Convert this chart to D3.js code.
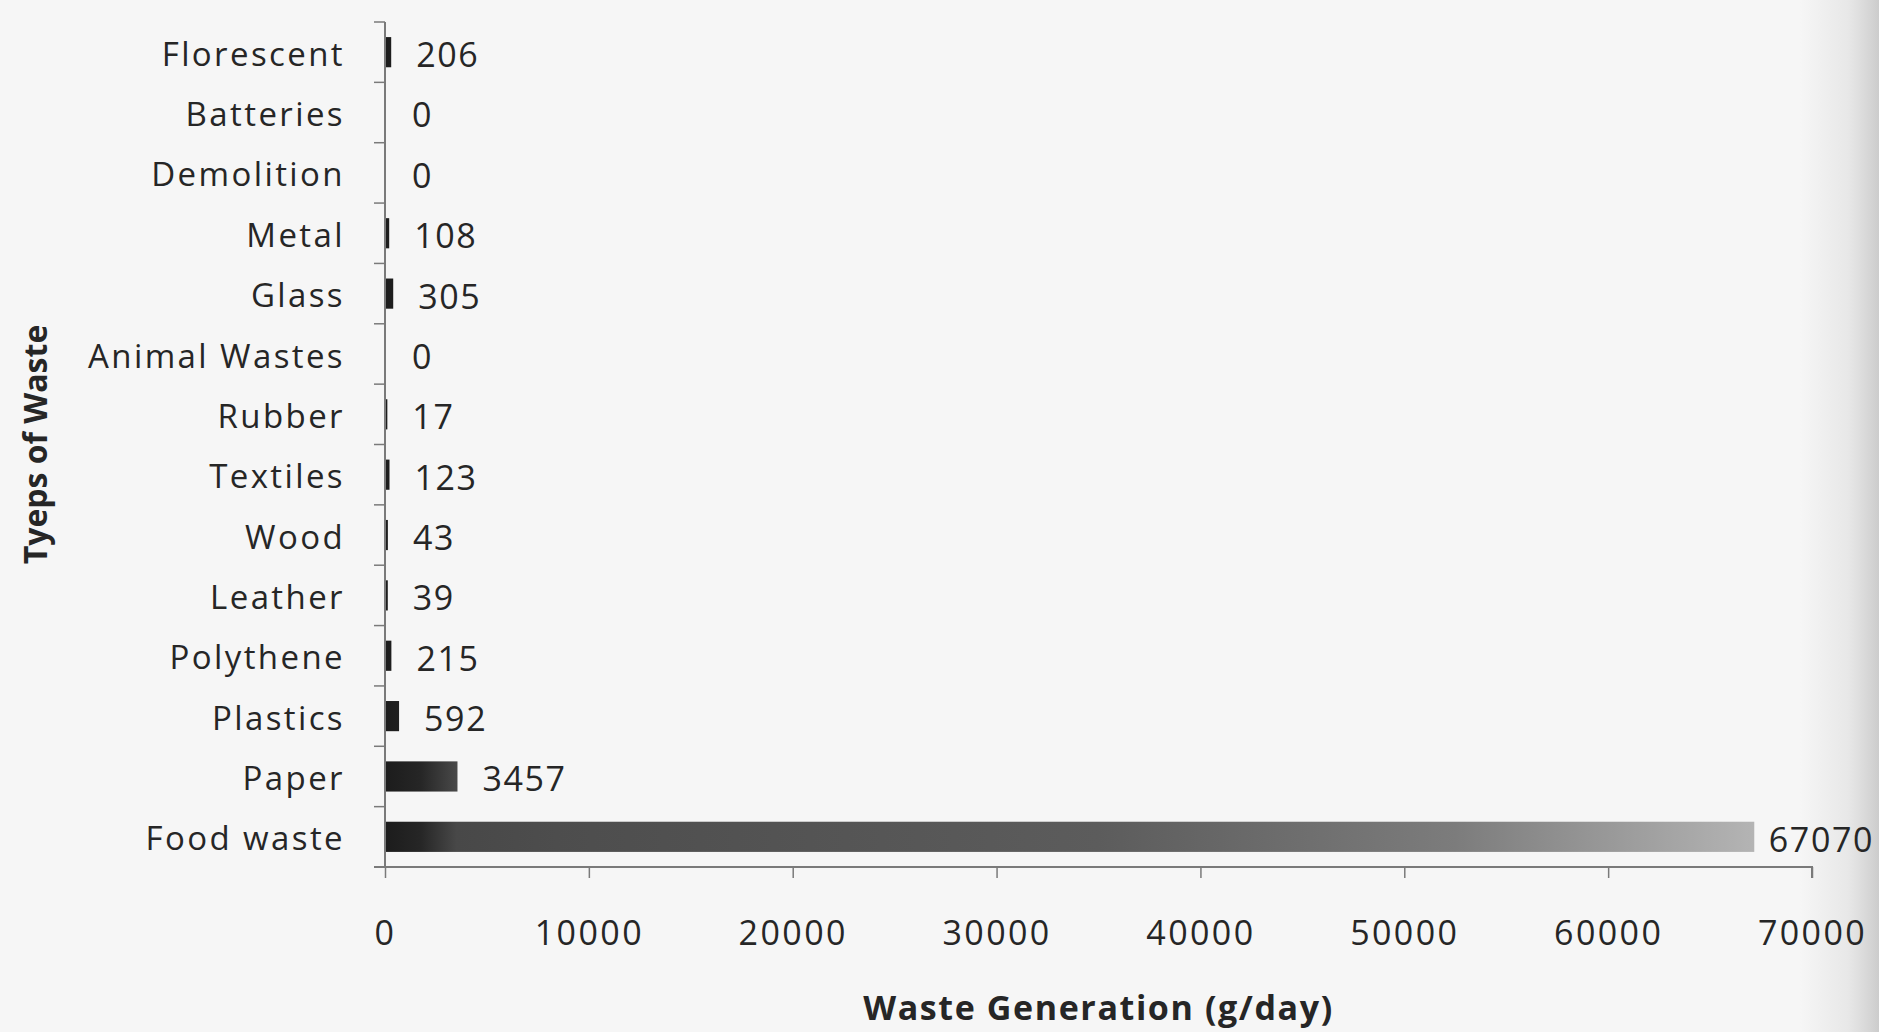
<!DOCTYPE html>
<html>
<head>
<meta charset="utf-8">
<script src="https://cdn.jsdelivr.net/npm/d3@7"></script>
<style>
  html, body { margin: 0; padding: 0; background: #f6f6f6; }
  svg { display: block; }
  text { font-family: "Open Sans", "Noto Sans", sans-serif; fill: #262626; }
</style>
</head>
<body>
<svg id="chart" width="1879" height="1032"></svg>
<script>
// ---- data ----
const categories = ["Florescent", "Batteries", "Demolition", "Metal", "Glass", "Animal Wastes",
  "Rubber", "Textiles", "Wood", "Leather", "Polythene", "Plastics", "Paper", "Food waste"];
const values = [206, 0, 0, 108, 305, 0, 17, 123, 43, 39, 215, 592, 3457, 67070];
const xTicks = [0, 10000, 20000, 30000, 40000, 50000, 60000, 70000];
const xTitle = "Waste Generation (g/day)";
const yTitle = "Tyeps of Waste";

const W = 1879, H = 1032;
const plot = { left: 385, right: 1812, top: 22, bottom: 867 };

const svg = d3.select("#chart");

// defs: bar gradient + page shading
const defs = svg.append("defs");
const x = d3.scaleLinear().domain([0, 70000]).range([plot.left, plot.right]);
const y = d3.scaleBand().domain(categories).range([plot.top, plot.bottom])
  .paddingInner(0.5).paddingOuter(0.25);

const grad = defs.append("linearGradient").attr("id", "barGrad")
  .attr("gradientUnits", "userSpaceOnUse")
  .attr("x1", x(0)).attr("x2", x(70000)).attr("y1", 0).attr("y2", 0);
[[0, "#1c1c1c"], [0.025, "#262626"], [0.05, "#484848"], [0.12, "#4d4d4d"],
 [0.5, "#5c5c5c"], [0.75, "#7c7c7c"], [0.96, "#b4b4b4"], [1, "#bcbcbc"]]
  .forEach(([o, c]) => grad.append("stop").attr("offset", o).attr("stop-color", c));

const shade = defs.append("linearGradient").attr("id", "shade")
  .attr("x1", 0).attr("x2", 1).attr("y1", 0).attr("y2", 0);
shade.append("stop").attr("offset", 0).attr("stop-color", "#bdbdbd").attr("stop-opacity", 0);
shade.append("stop").attr("offset", 0.6).attr("stop-color", "#bdbdbd").attr("stop-opacity", 0.25);
shade.append("stop").attr("offset", 1).attr("stop-color", "#b0b0b0").attr("stop-opacity", 0.6);

svg.append("rect").attr("width", W).attr("height", H).attr("fill", "#f6f6f6");
svg.append("rect").attr("x", 1800).attr("y", 0).attr("width", W - 1800).attr("height", H)
  .attr("fill", "url(#shade)");

const axisColor = "#7a7a7a";

// bars
svg.append("g").selectAll("rect").data(categories).join("rect")
  .attr("x", x(0))
  .attr("y", d => y(d))
  .attr("height", y.bandwidth())
  .attr("width", (d, i) => Math.max(0, x(values[i]) - x(0)) + (values[i] > 0 ? 2 : 0))
  .attr("fill", "url(#barGrad)");

// y axis line and boundary ticks
const gy = svg.append("g");
gy.append("line").attr("x1", x(0)).attr("x2", x(0))
  .attr("y1", plot.top).attr("y2", plot.bottom)
  .attr("stroke", axisColor).attr("stroke-width", 2);
const boundaries = d3.range(categories.length + 1).map(i => y.range()[0] + i * y.step());
gy.selectAll("line.tick").data(boundaries).join("line").attr("class", "tick")
  .attr("x1", x(0) - 11).attr("x2", x(0))
  .attr("y1", d => d).attr("y2", d => d)
  .attr("stroke", axisColor).attr("stroke-width", 1.5);

// category labels
gy.selectAll("text").data(categories).join("text")
  .attr("x", x(0) - 40)
  .attr("y", d => y(d) + y.bandwidth() / 2 + 2)
  .attr("dy", "0.35em")
  .attr("text-anchor", "end")
  .style("font-size", "33px")
  .style("letter-spacing", "2.4px")
  .text(d => d);

// x axis
const xAxis = d3.axisBottom(x).tickValues(xTicks).tickSize(11).tickPadding(43)
  .tickFormat(d3.format("d"));
const gx = svg.append("g").attr("transform", `translate(0,${plot.bottom})`).call(xAxis);
gx.select(".domain").attr("stroke", axisColor).attr("stroke-width", 2)
  .attr("d", `M${x(0) - 11},0H${x(70000)}V11`);
gx.selectAll(".tick line").attr("stroke", axisColor).attr("stroke-width", 1.5);
gx.selectAll(".tick text")
  .attr("fill", "#262626")
  .style("font-family", '"Open Sans", sans-serif')
  .style("font-size", "34px")
  .style("letter-spacing", "2.4px");

// value labels (kept inside the page edge)
svg.append("g").selectAll("text").data(categories).join("text")
  .attr("x", (d, i) => x(values[i]) + 27)
  .attr("y", d => y(d) + y.bandwidth() / 2 + 3)
  .attr("dy", "0.35em")
  .style("font-size", "34px")
  .style("letter-spacing", "1.6px")
  .text((d, i) => values[i])
  .each(function () {
    const len = this.getComputedTextLength();
    const cx = +this.getAttribute("x");
    if (cx + len > W - 5) this.setAttribute("x", W - 5 - len);
  });

// axis titles
svg.append("text")
  .attr("x", (plot.left + plot.right) / 2)
  .attr("y", 1020)
  .attr("text-anchor", "middle")
  .style("font-size", "34px")
  .style("font-weight", "bold")
  .style("letter-spacing", "1.6px")
  .text(xTitle);

svg.append("text")
  .attr("transform", `translate(47,${(plot.top + plot.bottom) / 2}) rotate(-90)`)
  .attr("text-anchor", "middle")
  .style("font-size", "32px")
  .style("font-weight", "bold")
  .text(yTitle);
</script>
</body>
</html>
